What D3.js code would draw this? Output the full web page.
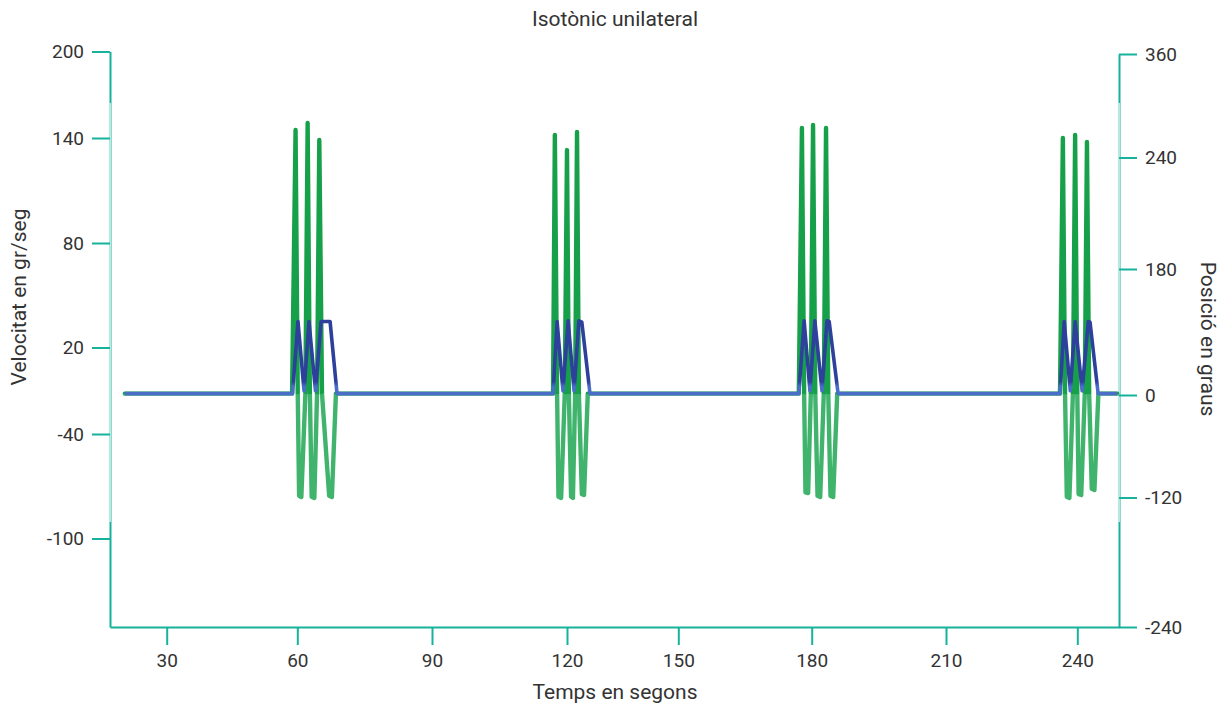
<!DOCTYPE html>
<html><head><meta charset="utf-8">
<script src="https://cdn.jsdelivr.net/npm/d3@7"></script>
<style>
body{margin:0;background:#fff}
text{font-family:Roboto,"DejaVu Sans",sans-serif;fill:#333}
</style></head>
<body><svg id="c" width="1223" height="706"></svg>
<script>
// ---------- data ----------
const chartTitle = "Isotònic unilateral";
const xTitle = "Temps en segons";
const leftTitle = "Velocitat en gr/seg";
const rightTitle = "Posició en graus";
const xTicks = [30, 60, 90, 120, 150, 180, 210, 240];
const velTicks = [200, 140, 80, 20, -40, -100];
const posTicks = [360, 240, 180, 0, -120, -240];

// velocity (green), seconds / gr per second
const velTime = [20.4,
  58.8, 59.6, 60.1, 60.4, 60.9, 61.8, 62.3, 62.8, 63.2, 63.8, 64.4, 64.9, 65.5, 67.1, 67.7, 68.6,
  116.9, 117.3, 117.8, 118.1, 118.7, 119.5, 120.0, 120.5, 121.1, 121.6, 122.2, 122.7, 123.2, 124.0, 124.6, 125.6,
  177.1, 177.8, 178.3, 178.6, 179.2, 179.8, 180.3, 180.8, 181.3, 181.9, 182.7, 183.2, 183.7, 184.2, 184.8, 185.7,
  236.05, 236.7, 237.2, 237.6, 238.2, 239.0, 239.5, 240.0, 240.3, 240.9, 241.7, 242.2, 242.7, 243.3, 243.9, 244.8,
  249.1];
const velValue = [-12,
  -12, 145.5, -12, -75.5, -76.2, -12, 150.4, -12, -76.0, -76.7, -12, 138.9, -12, -75.5, -76.2, -12,
  -12, 142.1, -12, -76.0, -76.7, -12, 133.1, -12, -76.0, -76.7, -12, 144.2, -12, -74.5, -75.0, -12,
  -12, 146.9, -12, -73.5, -73.9, -12, 149.0, -12, -75.5, -76.2, -12, 146.9, -12, -75.5, -76.2, -12,
  -12, 140.0, -12, -76.0, -76.7, -12, 142.1, -12, -74.5, -75.0, -12, 137.7, -12, -71.5, -72.2, -12,
  -12];

// position (blue), seconds / degrees
const posTime = [20.4,
  58.9, 60.15, 61.5, 62.6, 64.05, 65.3, 67.3, 68.85,
  116.9, 117.8, 119.1, 120.3, 121.9, 123.2, 124.0, 126.2,
  177.1, 178.3, 179.6, 180.7, 182.3, 183.4, 183.9, 185.9,
  236.05, 237.0, 238.4, 239.5, 241.1, 242.5, 242.9, 244.75,
  249.1];
const posValue = [2,
  2, 105, 6, 105, 6, 105, 105, 2,
  2, 105, 6, 106, 6, 106, 104, 2,
  2, 106, 6, 106, 6, 106, 105, 2,
  2, 105, 6, 105, 6, 105, 104, 2,
  2];

// ---------- layout ----------
const svg = d3.select("#c");
const teal = "#17b29c", tealLight = "#b9e8e2";

const x = d3.scaleLinear()
  .domain([17, ...xTicks, 249.5])
  .range([110, 166.7, 297.3, 432, 567, 678.3, 811.7, 946, 1077.3, 1119]);
const yVel = d3.scaleLinear()
  .domain([...velTicks, -160])
  .range([51.5, 138, 243, 347.5, 434, 538.5, 627]);
const yPos = d3.scaleLinear()
  .domain(posTicks)
  .range([54, 157.5, 269, 395, 497.5, 627]);

const fmt = d => String(d);

function styleAxis(g, lightFrom, lightTo, vertical) {
  g.select(".domain").attr("stroke", teal).attr("stroke-width", 2);
  g.selectAll(".tick line").attr("stroke", teal).attr("stroke-width", 2);
  g.selectAll(".tick text").style("font-size", "19px").attr("fill", "#333");
  if (vertical) {
    g.insert("line", ".tick").attr("x1", 0).attr("x2", 0)
      .attr("y1", lightFrom).attr("y2", lightTo)
      .attr("stroke", tealLight).attr("stroke-width", 2.2);
  }
}

svg.append("g").attr("transform", "translate(0,627)")
  .call(d3.axisBottom(x).tickValues(xTicks).tickFormat(fmt).tickSize(18).tickSizeOuter(0).tickPadding(9))
  .call(g => styleAxis(g, 0, 0, false));

svg.append("g").attr("transform", "translate(110,0)")
  .call(d3.axisLeft(yVel).tickValues(velTicks).tickFormat(fmt).tickSize(18).tickSizeOuter(0).tickPadding(8))
  .call(g => styleAxis(g, 103, 522, true));

svg.append("g").attr("transform", "translate(1119,0)")
  .call(d3.axisRight(yPos).tickValues(posTicks).tickFormat(fmt).tickSize(18).tickSizeOuter(0).tickPadding(8))
  .call(g => styleAxis(g, 103, 522, true));

// gradients: darker green above rest line, paler green below; navy blue above rest line
const restY = yVel(-12);
const defs = svg.append("defs");
const grad = defs.append("linearGradient").attr("id", "gv")
  .attr("gradientUnits", "userSpaceOnUse").attr("x1", 0).attr("x2", 0).attr("y1", 0).attr("y2", 706);
grad.append("stop").attr("offset", restY / 706).attr("stop-color", "#17a04a");
grad.append("stop").attr("offset", (restY + 1) / 706).attr("stop-color", "#40b46c");
const gradB = defs.append("linearGradient").attr("id", "gb")
  .attr("gradientUnits", "userSpaceOnUse").attr("x1", 0).attr("x2", 0).attr("y1", 0).attr("y2", 706);
gradB.append("stop").attr("offset", (restY - 12) / 706).attr("stop-color", "#2c409c");
gradB.append("stop").attr("offset", (restY - 7) / 706).attr("stop-color", "#4a6ec8");

// series
const velData = velTime.map((t, i) => [t, velValue[i]]);
const posData = posTime.map((t, i) => [t, posValue[i]]);

const velLine = d3.line().x(d => x(d[0])).y(d => yVel(d[1]));
const posLine = d3.line().x(d => x(d[0])).y(d => yPos(d[1]));

svg.append("path").datum(velData).attr("d", velLine)
  .attr("fill", "none").attr("stroke", "url(#gv)").attr("stroke-width", 4.4)
  .attr("stroke-linejoin", "round").attr("stroke-linecap", "round");

svg.append("path").datum(posData).attr("d", posLine)
  .attr("fill", "none").attr("stroke", "url(#gb)").attr("stroke-width", 3.6)
  .attr("stroke-linejoin", "round");

// titles
svg.append("text").attr("x", 615).attr("y", 20).attr("text-anchor", "middle")
  .attr("dominant-baseline", "middle").style("font-size", "21px").text(chartTitle);
svg.append("text").attr("x", 615).attr("y", 693).attr("text-anchor", "middle")
  .attr("dominant-baseline", "middle").style("font-size", "21px").text(xTitle);
svg.append("text").attr("transform", "translate(20,297) rotate(-90)").attr("text-anchor", "middle")
  .attr("dominant-baseline", "middle").style("font-size", "21px").text(leftTitle);
svg.append("text").attr("transform", "translate(1207,339) rotate(90)").attr("text-anchor", "middle")
  .attr("dominant-baseline", "middle").style("font-size", "21px").text(rightTitle);
</script></body></html>
